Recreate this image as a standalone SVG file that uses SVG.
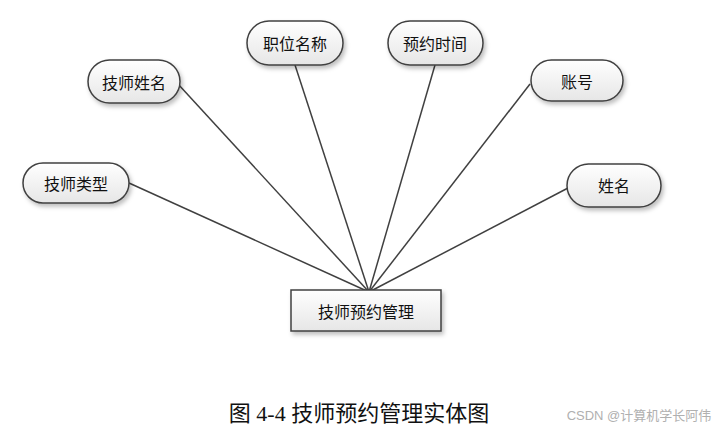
<svg xmlns="http://www.w3.org/2000/svg" width="722" height="430" viewBox="0 0 722 430">
<defs>
<linearGradient id="g" x1="0" y1="0" x2="0" y2="1">
<stop offset="0" stop-color="#ffffff"/>
<stop offset="1" stop-color="#e6e6e6"/>
</linearGradient>
<filter id="sh" x="-20%" y="-20%" width="150%" height="160%">
<feDropShadow dx="2" dy="3" stdDeviation="2" flood-color="#000" flood-opacity="0.25"/>
</filter>
</defs>
<style>
.n{fill:url(#g);stroke:#404040;stroke-width:1.5;filter:url(#sh)}
.t{font-family:"Noto Sans CJK SC","Liberation Serif",serif;font-size:16px;fill:#111;text-anchor:middle;dominant-baseline:central}
.c{stroke:#404040;stroke-width:1.5;fill:none}
</style>
<rect width="722" height="430" fill="#fff"/>
<g id="connectors">
<line class="c" x1="178" y1="84" x2="369" y2="292"/>
<line class="c" x1="295" y1="65" x2="369" y2="292"/>
<line class="c" x1="435" y1="65" x2="369" y2="292"/>
<line class="c" x1="530" y1="84" x2="369" y2="292"/>
<line class="c" x1="129" y1="183" x2="369" y2="292"/>
<line class="c" x1="568" y1="188" x2="369" y2="292"/>
</g>
<g id="node-jishixingming">
<rect class="n" x="88" y="60" width="92" height="43" rx="21.5"/>
<text class="t" x="134" y="82">技师姓名</text>
</g>
<g id="node-zhiweimingcheng">
<rect class="n" x="247" y="21" width="96" height="44" rx="22"/>
<text class="t" x="295" y="43">职位名称</text>
</g>
<g id="node-yuyueshijian">
<rect class="n" x="388" y="21" width="95" height="44" rx="22"/>
<text class="t" x="435" y="43">预约时间</text>
</g>
<g id="node-zhanghao">
<rect class="n" x="531" y="60" width="92" height="41" rx="20.5"/>
<text class="t" x="577" y="81">账号</text>
</g>
<g id="node-jishileixing">
<rect class="n" x="23" y="163" width="106" height="40" rx="20"/>
<text class="t" x="76" y="183">技师类型</text>
</g>
<g id="node-xingming">
<rect class="n" x="567" y="164" width="94" height="43" rx="21.5"/>
<text class="t" x="614" y="185">姓名</text>
</g>
<g id="node-entity">
<rect class="n" x="291" y="290" width="150" height="41" rx="0"/>
<text class="t" x="366" y="311">技师预约管理</text>
</g>
<text x="359" y="421" font-family="'Liberation Serif','Noto Sans CJK SC',serif" font-size="22" text-anchor="middle" fill="#111">图 4-4 技师预约管理实体图</text>
<text x="639" y="420" font-family="'Liberation Sans','Noto Sans CJK SC',sans-serif" font-size="13" text-anchor="middle" fill="#b0b0b0">CSDN @计算机学长阿伟</text>
</svg>
